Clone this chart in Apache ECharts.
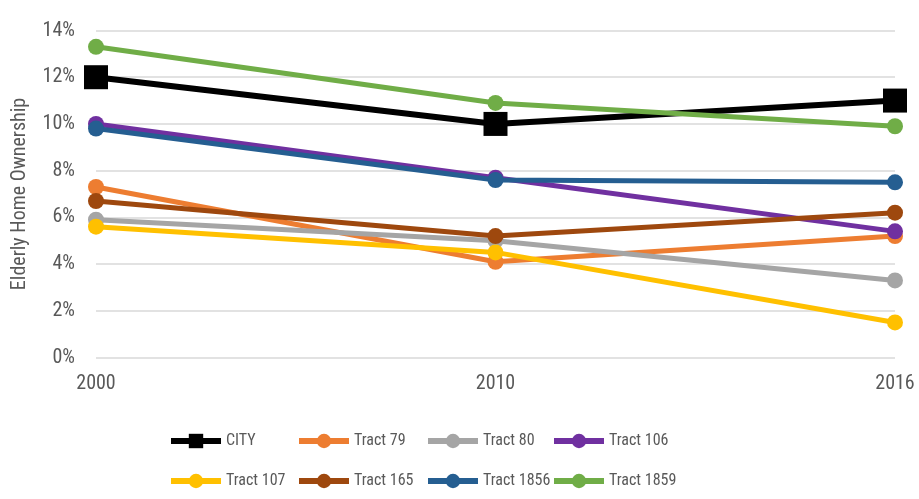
<!DOCTYPE html>
<html>
<head>
<meta charset="utf-8">
<script src="https://cdn.jsdelivr.net/npm/echarts@6/dist/echarts.min.js"></script>
<style>
  html, body { margin: 0; padding: 0; background: #fff; }
  #main { width: 919px; height: 499px; }
</style>
</head>
<body>
<div id="main"></div>
<script>
// years on the x axis
const years = ["2000", "2010", "2016"];

// share of elderly home ownership, in percent
const city = [12.0, 10.0, 11.0];
const tract79 = [7.3, 4.1, 5.2];
const tract80 = [5.9, 5.0, 3.3];
const tract106 = [10.0, 7.7, 5.4];
const tract107 = [5.6, 4.5, 1.5];
const tract165 = [6.7, 5.2, 6.2];
const tract1856 = [9.8, 7.6, 7.5];
const tract1859 = [13.3, 10.9, 9.9];

const seriesNames = ["CITY", "Tract 79", "Tract 80", "Tract 106", "Tract 107", "Tract 165", "Tract 1856", "Tract 1859"];
const seriesData = [city, tract79, tract80, tract106, tract107, tract165, tract1856, tract1859];
const colors = ["#000000", "#ED7D31", "#A5A5A5", "#7030A0", "#FFC000", "#9E480E", "#255E91", "#70AD47"];

const fontFam = '"Roboto Condensed", Roboto, sans-serif';
const txtColor = "#595959";

let series = [];
for (let i = 0; i < seriesNames.length; i++) {
  let isCity = i == 0;
  series.push({
    name: seriesNames[i],
    type: "line",
    data: seriesData[i],
    symbol: isCity ? "rect" : "circle",
    symbolSize: isCity ? 24 : 16,
    showAllSymbol: true,
    animation: false,
    lineStyle: { color: colors[i], width: isCity ? 6 : 5 },
    itemStyle: { color: colors[i] },
    z: 2 + i,
  });
}

// legend: 4 columns of 2 items, one legend per column so the columns line up
const colLeft = [163, 291, 420, 546];
let legends = [];
for (let c = 0; c < 4; c++) {
  legends.push({
    data: [seriesNames[c], seriesNames[c + 4]],
    orient: "vertical",
    left: colLeft[c],
    top: 428,
    itemWidth: 50,
    itemHeight: 18,
    itemGap: 24,
    selectedMode: false,
    lineStyle: { width: 6 },
    textStyle: { fontFamily: fontFam, fontSize: 16, color: txtColor },
  });
}

let myChart = echarts.init(document.getElementById("main"));
myChart.setOption({
  backgroundColor: "#fff",
  color: colors,
  textStyle: { fontFamily: fontFam },
  grid: { left: 96, right: 24, top: 30.5, bottom: 141.5 },
  legend: legends,
  xAxis: {
    type: "category",
    data: years,
    boundaryGap: false,
    axisLine: { show: false },
    axisTick: { show: false },
    axisLabel: { fontFamily: fontFam, fontSize: 20, color: txtColor, margin: 16 },
  },
  yAxis: {
    type: "value",
    min: 0,
    max: 14,
    interval: 2,
    name: "Elderly Home Ownership",
    nameLocation: "middle",
    nameGap: 66,
    nameTextStyle: { fontFamily: fontFam, fontSize: 20, color: txtColor },
    axisLabel: { formatter: "{value}%", fontFamily: fontFam, fontSize: 20, color: txtColor, margin: 21 },
    splitLine: { lineStyle: { color: "#d9d9d9", width: 1.5 } },
  },
  series: series,
});
</script>
</body>
</html>
